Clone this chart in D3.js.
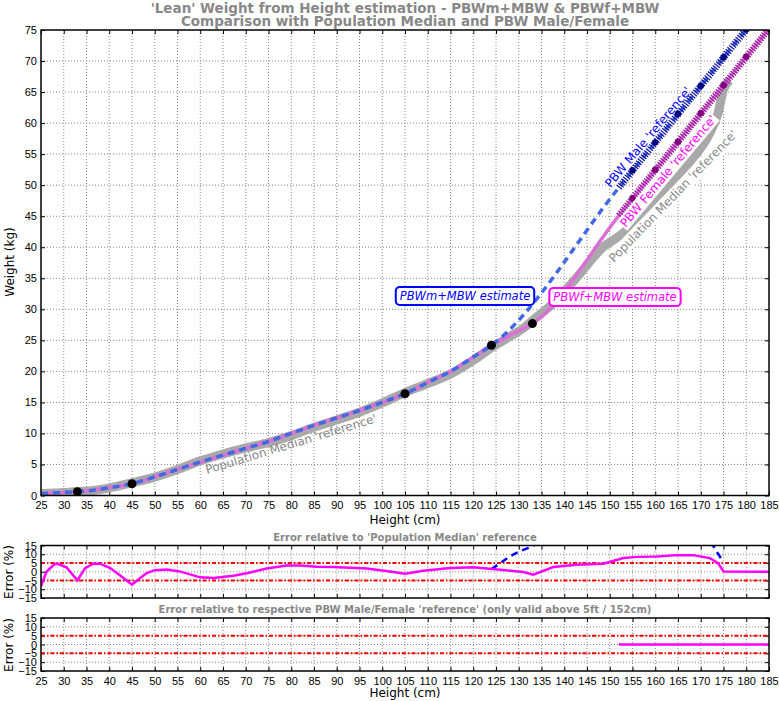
<!DOCTYPE html>
<html>
<head>
<script type="text/javascript" src="https://cdn.jsdelivr.net/npm/d3@7/dist/d3.min.js"></script>
<style>
  body { margin: 0; background: #fff; }
  svg { font-family: "DejaVu Sans", sans-serif; }
  .tick text { font-size: 11px; fill: #000; }
  .domain { display: none; }
</style>
</head>
<body>
<svg id="chart" width="779" height="701"></svg>
<script type="text/javascript">
// population median reference (kg)
var medianHeights = [25, 28, 30, 33, 36.5, 40, 45, 50, 55, 60, 65, 70, 75, 80, 85, 90, 95, 100, 105, 110, 115, 120, 124, 128, 131, 133, 137.6, 142.7, 148.6, 153, 156, 160.3, 164.7, 168.3, 172, 173.8, 175, 176.4];
var medianWeights = [0.33, 0.40, 0.49, 0.63, 0.81, 1.23, 2.05, 2.97, 4.19, 5.58, 6.69, 7.66, 8.54, 9.65, 10.98, 12.18, 13.42, 14.91, 16.58, 18.04, 19.59, 21.76, 23.82, 25.6, 26.95, 28.18, 30.96, 35.1, 40.06, 42.3, 44.6, 48.1, 51.4, 54.4, 58.4, 61.6, 65.4, 66.9];

// PBWf+MBW estimate
var femaleEstHeights = [25, 28, 30, 33, 36.5, 40, 45, 50, 55, 60, 65, 70, 75, 80, 85, 90, 95, 100, 105, 110, 115, 120, 124, 128, 131, 133, 152, 185];
var femaleEstWeights = [0.3, 0.42, 0.5, 0.6, 0.85, 1.25, 1.9, 3.0, 4.2, 5.4, 6.5, 7.6, 8.7, 10.0, 11.3, 12.5, 13.7, 15.0, 16.4, 18.2, 20.0, 22.3, 24.2, 25.8, 26.9, 27.7, 45.1, 75.2];

// PBWm+MBW estimate
var maleEstHeights = [25, 28, 30, 33, 36.5, 40, 45, 50, 55, 60, 65, 70, 75, 80, 85, 90, 95, 100, 105, 110, 115, 120, 124, 152, 180];
var maleEstWeights = [0.3, 0.42, 0.5, 0.6, 0.85, 1.25, 1.9, 3.0, 4.2, 5.4, 6.5, 7.6, 8.7, 10.0, 11.3, 12.5, 13.7, 15.0, 16.4, 18.2, 20.0, 22.3, 24.2, 49.6, 75.1];

// PBW references (from 152 cm)
var pbwMaleHeights = [152, 180];
var pbwMaleWeights = [49.6, 75.1];
var pbwMaleDotHeights = [155, 160, 165, 170, 175, 180];
var pbwMaleDotWeights = [52.4, 56.9, 61.5, 66.0, 70.6, 75.1];
var pbwFemaleHeights = [152, 185];
var pbwFemaleWeights = [45.1, 75.2];
var pbwFemaleDotHeights = [155, 160, 165, 170, 175, 180, 185];
var pbwFemaleDotWeights = [47.9, 52.5, 57.0, 61.6, 66.1, 70.7, 75.2];

// anchor points
var anchorHeights = [33, 45, 105, 124, 133];
var anchorWeights = [0.6, 1.9, 16.4, 24.2, 27.7];

// error vs population median (%)
var errFemaleHeights = [25, 26.2, 28, 28.8, 30.6, 33, 34.7, 36.5, 38, 40.2, 42.4, 45, 46.8, 48.2, 50, 52.6, 55.5, 60, 63, 67.3, 71, 74.6, 79, 82, 85.6, 89.2, 96.6, 101.7, 105, 109, 115, 120, 126, 131, 133.2, 137.6, 142.7, 148.6, 153, 156, 160.3, 164.7, 168.3, 172, 173.8, 175, 185];
var errFemaleValues = [-8.3, 0, 4.4, 4.4, 2.5, -4.9, 2.1, 4.6, 4.6, 2.1, -2.1, -7.4, -3.6, -0.8, 0.9, 1.3, 0.2, -3.2, -3.6, -2.3, -0.4, 1.9, 3.6, 3.6, 2.8, 2.7, 1.9, 0.2, -1.1, 0.6, 2.1, 2.5, 1.1, -0.2, -1.7, 2.7, 4, 4.6, 7.8, 8.5, 8.7, 9.5, 9.5, 7.8, 4.9, 0.2, 0];
var errMaleHeights = [124, 126, 128, 130, 132, 134, 140, 150, 160, 170, 172.7, 173.5, 174.2, 174.8];
var errMaleValues = [1.6, 5, 8.7, 11.5, 13.5, 16, 22, 17, 18.5, 18, 15, 11.5, 8.7, 6];

// error vs PBW reference (%)
var errPbwHeights = [152, 185];
var errPbwValues = [0, 0];

var xTicks = d3.range(25, 186, 5);
var yTicks = d3.range(0, 76, 5);
var errTicks = [-15, -10, -5, 0, 5, 10, 15];

var svg = d3.select("#chart");
var left = 41, right = 769;

var x = d3.scaleLinear().domain([25, 185]).range([left, right]);
var y = d3.scaleLinear().domain([0, 75]).range([495.5, 30]);
var yE1 = d3.scaleLinear().domain([-15, 15]).range([598, 545.5]);
var yE2 = d3.scaleLinear().domain([-15, 15]).range([671, 618]);

function zip(a, b){ return a.map(function(d, i){ return [d, b[i]]; }); }

function panel(id, ys, yt, showXLabels){
  var top = ys.range()[1], bottom = ys.range()[0];
  svg.append("clipPath").attr("id", id).append("rect")
    .attr("x", left).attr("y", top).attr("width", right - left).attr("height", bottom - top);
  var g = svg.append("g");
  // grid
  g.selectAll(".vg").data(xTicks.slice(1, -1)).enter().append("line")
    .attr("x1", function(d){return x(d);}).attr("x2", function(d){return x(d);})
    .attr("y1", top).attr("y2", bottom)
    .attr("stroke", "#888").attr("stroke-width", 1).attr("stroke-dasharray", "1,2");
  g.selectAll(".hg").data(yt.slice(1, -1)).enter().append("line")
    .attr("x1", left).attr("x2", right)
    .attr("y1", function(d){return ys(d);}).attr("y2", function(d){return ys(d);})
    .attr("stroke", "#888").attr("stroke-width", 1).attr("stroke-dasharray", "1,2");
  // axes, ticks inside on all sides
  var xb = d3.axisBottom(x).tickValues(xTicks).tickSizeInner(-4).tickSizeOuter(0).tickPadding(6);
  if(!showXLabels){ xb.tickFormat(""); }
  svg.append("g").attr("transform", "translate(0," + bottom + ")").call(xb);
  svg.append("g").attr("transform", "translate(0," + top + ")")
    .call(d3.axisTop(x).tickValues(xTicks).tickSizeInner(-4).tickSizeOuter(0).tickFormat(""));
  svg.append("g").attr("transform", "translate(" + left + ",0)")
    .call(d3.axisLeft(ys).tickValues(yt).tickSizeInner(-4).tickSizeOuter(0).tickPadding(4)
      .tickFormat(function(d){ return d < 0 ? "\u2212" + Math.abs(d) : d; }));
  svg.append("g").attr("transform", "translate(" + right + ",0)")
    .call(d3.axisRight(ys).tickValues(yt).tickSizeInner(-4).tickSizeOuter(0).tickFormat(""));
  svg.selectAll(".tick line").attr("stroke", "#000");
  return g;
}

function frame(ys){
  var top = ys.range()[1], bottom = ys.range()[0];
  svg.append("rect").attr("x", left).attr("y", top).attr("width", right - left).attr("height", bottom - top)
    .attr("fill", "none").attr("stroke", "#000").attr("stroke-width", 1.5);
}

// ---------- main panel ----------
var main = panel("clipMain", y, yTicks, true);
var mg = svg.append("g").attr("clip-path", "url(#clipMain)");
var line = d3.line().x(function(d){return x(d[0]);}).y(function(d){return y(d[1]);}).curve(d3.curveMonotoneX);
var straight = d3.line().x(function(d){return x(d[0]);}).y(function(d){return y(d[1]);});

mg.append("path").attr("d", line(zip(medianHeights, medianWeights)))
  .attr("fill", "none").attr("stroke", "#a9a9a9").attr("stroke-width", 9).attr("stroke-linejoin", "round");
mg.append("path").attr("d", line(zip(femaleEstHeights, femaleEstWeights)))
  .attr("fill", "none").attr("stroke", "#da70d6").attr("stroke-width", 3.5);
mg.append("path").attr("d", line(zip(maleEstHeights, maleEstWeights)))
  .attr("fill", "none").attr("stroke", "#4169e1").attr("stroke-width", 3.5).attr("stroke-dasharray", "7,5");
mg.append("path").attr("d", straight(zip(pbwFemaleHeights, pbwFemaleWeights)))
  .attr("fill", "none").attr("stroke", "#9c1f9c").attr("stroke-width", 7).attr("stroke-dasharray", "1.3,1.3");
mg.append("path").attr("d", straight(zip(pbwMaleHeights, pbwMaleWeights)))
  .attr("fill", "none").attr("stroke", "#1a1aa0").attr("stroke-width", 7).attr("stroke-dasharray", "1.3,1.3");
mg.selectAll(".fdot").data(zip(pbwFemaleDotHeights, pbwFemaleDotWeights)).enter().append("circle")
  .attr("cx", function(d){return x(d[0]);}).attr("cy", function(d){return y(d[1]);}).attr("r", 3.2).attr("fill", "#800080");
mg.selectAll(".mdot").data(zip(pbwMaleDotHeights, pbwMaleDotWeights)).enter().append("circle")
  .attr("cx", function(d){return x(d[0]);}).attr("cy", function(d){return y(d[1]);}).attr("r", 3.2).attr("fill", "#000080");
mg.selectAll(".adot").data(zip(anchorHeights, anchorWeights)).enter().append("circle")
  .attr("cx", function(d){return x(d[0]);}).attr("cy", function(d){return y(d[1]);}).attr("r", 4.5).attr("fill", "#000");
frame(y);

// labels on main plot
function rotLabel(txt, cx, cy, ang, color, bg){
  var g = svg.append("g").attr("transform", "translate(" + cx + "," + cy + ") rotate(" + ang + ")");
  var t = g.append("text").attr("text-anchor", "middle").attr("dy", "0.35em")
    .attr("font-size", 12).attr("fill", color).text(txt);
  if(bg){
    var b = t.node().getBBox();
    g.insert("rect", "text").attr("x", b.x - 1).attr("y", b.y).attr("width", b.width + 2).attr("height", b.height).attr("fill", "#fff");
  }
}
rotLabel("PBW Male 'reference'", 648, 137, -50, "#0000ff", false);
rotLabel("PBW Female 'reference'", 668, 171, -50, "#ff00ff", true);
rotLabel("Population Median 'reference'", 673, 196, -46, "#888", true);
rotLabel("Population Median 'reference'", 291, 444, -17, "#888", false);

function boxLabel(txt, cx, cy, color){
  var g = svg.append("g").attr("transform", "translate(" + cx + "," + cy + ")");
  var t = g.append("text").attr("text-anchor", "middle").attr("dy", "0.35em")
    .attr("font-size", 11.5).attr("font-style", "italic").attr("fill", color).text(txt);
  var b = t.node().getBBox();
  g.insert("rect", "text").attr("x", b.x - 4).attr("y", b.y - 2).attr("width", b.width + 8).attr("height", b.height + 4)
    .attr("rx", 4).attr("fill", "#fff").attr("stroke", color).attr("stroke-width", 2);
}
boxLabel("PBWm+MBW estimate", 465, 296, "#0000ff");
boxLabel("PBWf+MBW estimate", 615, 297, "#ff00ff");

// ---------- error panel 1 ----------
panel("clipE1", yE1, errTicks, false);
var e1 = svg.append("g").attr("clip-path", "url(#clipE1)");
var lineE1 = d3.line().x(function(d){return x(d[0]);}).y(function(d){return yE1(d[1]);});
[5, -5].forEach(function(v){
  e1.append("line").attr("x1", left).attr("x2", right).attr("y1", yE1(v)).attr("y2", yE1(v))
    .attr("stroke", "#ff0000").attr("stroke-width", 2).attr("stroke-dasharray", "4,2,1.5,2");
});
e1.append("path").attr("d", lineE1(zip(errMaleHeights, errMaleValues)))
  .attr("fill", "none").attr("stroke", "#0000ff").attr("stroke-width", 2.5).attr("stroke-dasharray", "7,5");
e1.append("path").attr("d", lineE1(zip(errFemaleHeights, errFemaleValues)))
  .attr("fill", "none").attr("stroke", "#ff00ff").attr("stroke-width", 2.5);
frame(yE1);

// ---------- error panel 2 ----------
panel("clipE2", yE2, errTicks, true);
var e2 = svg.append("g").attr("clip-path", "url(#clipE2)");
var lineE2 = d3.line().x(function(d){return x(d[0]);}).y(function(d){return yE2(d[1]);});
[5, -5].forEach(function(v){
  e2.append("line").attr("x1", left).attr("x2", right).attr("y1", yE2(v)).attr("y2", yE2(v))
    .attr("stroke", "#ff0000").attr("stroke-width", 2).attr("stroke-dasharray", "4,2,1.5,2");
});
e2.append("path").attr("d", lineE2(zip(errPbwHeights, errPbwValues)))
  .attr("fill", "none").attr("stroke", "#ff00ff").attr("stroke-width", 2.5);
frame(yE2);

// ---------- titles and axis labels ----------
svg.append("text").attr("x", 405).attr("y", 13).attr("text-anchor", "middle").attr("font-size", 13.5)
  .attr("font-weight", "bold").attr("fill", "#888").text("'Lean' Weight from Height estimation - PBWm+MBW & PBWf+MBW");
svg.append("text").attr("x", 405).attr("y", 26).attr("text-anchor", "middle").attr("font-size", 13.5)
  .attr("font-weight", "bold").attr("fill", "#888").text("Comparison with Population Median and PBW Male/Female");
svg.append("text").attr("x", 405).attr("y", 524).attr("text-anchor", "middle").attr("font-size", 12).text("Height (cm)");
svg.append("text").attr("x", 405).attr("y", 697).attr("text-anchor", "middle").attr("font-size", 12).text("Height (cm)");
svg.append("text").attr("transform", "translate(14,262) rotate(-90)").attr("text-anchor", "middle").attr("font-size", 12).text("Weight (kg)");
svg.append("text").attr("transform", "translate(13,572) rotate(-90)").attr("text-anchor", "middle").attr("font-size", 12).text("Error (%)");
svg.append("text").attr("transform", "translate(13,645) rotate(-90)").attr("text-anchor", "middle").attr("font-size", 12).text("Error (%)");
svg.append("text").attr("x", 405).attr("y", 541).attr("text-anchor", "middle").attr("font-size", 10)
  .attr("font-weight", "bold").attr("fill", "#888").text("Error relative to 'Population Median' reference");
svg.append("text").attr("x", 405).attr("y", 613).attr("text-anchor", "middle").attr("font-size", 10)
  .attr("font-weight", "bold").attr("fill", "#888").text("Error relative to respective PBW Male/Female 'reference' (only valid above 5ft / 152cm)");
</script>
</body>
</html>
